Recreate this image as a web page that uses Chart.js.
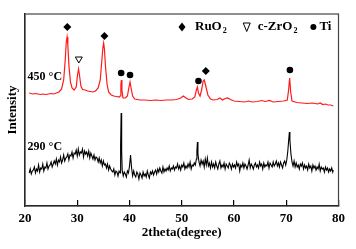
<!DOCTYPE html>
<html>
<head>
<meta charset="utf-8">
<script src="https://cdn.jsdelivr.net/npm/chart.js@4.4.0/dist/chart.umd.min.js"></script>
<style>
  html, body { margin: 0; padding: 0; background: #fff; }
  canvas { display: block; }
</style>
</head>
<body>
<canvas id="xrd" width="356" height="249"></canvas>
<script>
// 450 °C pattern (red)
const theta450 = [20.8, 21.5, 22.0, 22.5, 23.0, 23.5, 24.0, 24.5, 25.0, 25.5, 26.0, 26.5, 27.0, 27.4, 27.7, 27.9, 28.05, 28.2, 28.4, 28.7,
  29.0, 29.4, 29.8, 30.05, 30.25, 30.45, 30.7, 31.0, 31.5, 32.0, 32.5, 33.0, 33.5, 34.0, 34.4, 34.7, 34.9, 35.05, 35.2, 35.4,
  35.7, 36.0, 36.5, 37.0, 37.5, 38.0, 38.2, 38.35, 38.45, 38.55, 38.75, 39.2, 39.6, 39.9, 40.1, 40.3, 40.6, 41.0, 41.5, 42.0,
  43.0, 44.0, 45.0, 46.0, 47.0, 48.0, 49.0, 49.8, 50.3, 50.8, 51.3, 52.0, 52.5, 52.8, 53.0, 53.2, 53.5, 53.8, 54.1, 54.3,
  54.6, 55.0, 55.5, 56.0, 56.8, 57.3, 57.8, 58.3, 58.8, 59.3, 60.0, 61.0, 62.0, 62.8, 63.5, 64.5, 65.3, 66.0, 66.8, 67.5,
  68.5, 69.5, 70.2, 70.45, 70.65, 70.85, 71.1, 72.0, 73.0, 74.0, 75.0, 76.0, 76.5, 77.0, 77.5, 78.0, 78.5, 79.0];
const int450 = [113, 112, 112.5, 112, 111.5, 112, 111.5, 112, 112.5, 112, 113, 114, 117, 126, 146, 164, 169, 161, 141, 124,
  118, 116, 119, 131, 137, 130, 120, 116.5, 116, 115, 114.5, 114, 115, 118, 126, 145, 158, 163, 157, 140,
  122, 114, 111, 110, 109.5, 109, 110, 121, 126, 116, 108, 108, 110, 119, 124, 118, 110, 107, 106.5, 106,
  106, 105.5, 106, 105.5, 106, 106, 106.5, 108, 110, 108, 106.5, 107, 109, 116, 119, 113, 110, 116, 125, 126,
  120, 111, 107, 106, 106.5, 108, 106, 107.5, 108, 106.5, 105, 104.5, 104, 105, 104, 104.5, 105.5, 104.5, 105.5, 104,
  104.5, 105, 106, 116, 128, 114, 105, 103.5, 103, 102.5, 103, 102, 103, 101.5, 102, 101, 101, 100];

// 290 °C pattern (black)
const theta290 = [20.8, 21.0, 21.2, 21.4, 21.6, 21.8, 22.0, 22.2, 22.4, 22.6, 22.8, 23.0, 23.2, 23.4, 23.6, 23.8, 24.0, 24.2, 24.4, 24.6,
  24.8, 25.0, 25.2, 25.4, 25.6, 25.8, 26.0, 26.2, 26.4, 26.6, 26.8, 27.0, 27.2, 27.4, 27.6, 27.8, 28.0, 28.2, 28.4, 28.6,
  28.8, 29.0, 29.2, 29.4, 29.6, 29.8, 30.0, 30.2, 30.4, 30.6, 30.8, 31.0, 31.2, 31.4, 31.6, 31.8, 32.0, 32.2, 32.4, 32.6,
  32.8, 33.0, 33.2, 33.4, 33.6, 33.8, 34.0, 34.2, 34.4, 34.6, 34.8, 35.0, 35.2, 35.4, 35.6, 35.8, 36.0, 36.2, 36.4, 36.6,
  36.8, 37.0, 37.2, 37.4, 37.6, 37.8, 38.0, 38.2, 38.3, 38.4, 38.5, 38.6, 38.8, 39.0, 39.2, 39.4, 39.6, 39.8, 40.0, 40.2,
  40.4, 40.6, 40.8, 41.0, 41.2, 41.4, 41.6, 41.8, 42.0, 42.2, 42.4, 42.6, 42.8, 43.0, 43.2, 43.4, 43.6, 43.8, 44.0, 44.2,
  44.4, 44.6, 44.8, 45.0, 45.2, 45.4, 45.6, 45.8, 46.0, 46.2, 46.4, 46.6, 46.8, 47.0, 47.2, 47.4, 47.6, 47.8, 48.0, 48.2,
  48.4, 48.6, 48.8, 49.0, 49.2, 49.4, 49.6, 49.8, 50.0, 50.2, 50.4, 50.6, 50.8, 51.0, 51.2, 51.4, 51.6, 51.8, 52.0, 52.2,
  52.4, 52.6, 52.8, 52.9, 53.0, 53.1, 53.3, 53.5, 53.7, 53.9, 54.1, 54.3, 54.5, 54.7, 54.9, 55.1, 55.3, 55.5, 55.7, 55.9,
  56.1, 56.3, 56.5, 56.7, 56.9, 57.1, 57.3, 57.5, 57.7, 57.9, 58.1, 58.3, 58.5, 58.7, 58.9, 59.1, 59.3, 59.5, 59.7, 59.9,
  60.1, 60.3, 60.5, 60.7, 60.9, 61.1, 61.3, 61.5, 61.7, 61.9, 62.1, 62.3, 62.5, 62.7, 62.9, 63.1, 63.3, 63.5, 63.7, 63.9,
  64.1, 64.3, 64.5, 64.7, 64.9, 65.1, 65.3, 65.5, 65.7, 65.9, 66.1, 66.3, 66.5, 66.7, 66.9, 67.1, 67.3, 67.5, 67.7, 67.9,
  68.1, 68.3, 68.5, 68.7, 68.9, 69.1, 69.3, 69.5, 69.7, 69.9, 70.1, 70.3, 70.5, 70.6, 70.7, 70.9, 71.1, 71.3, 71.5, 71.7,
  71.9, 72.1, 72.3, 72.5, 72.7, 72.9, 73.1, 73.3, 73.5, 73.7, 73.9, 74.1, 74.3, 74.5, 74.7, 74.9, 75.1, 75.3, 75.5, 75.7,
  75.9, 76.1, 76.3, 76.5, 76.7, 76.9, 77.1, 77.3, 77.5, 77.7, 77.9, 78.1, 78.3, 78.5, 78.7, 78.9, 79.0];
const int290 = [33, 37, 32, 35, 36, 39, 33, 37, 35, 41, 34, 38, 37, 42, 35, 39, 38, 43, 37, 40,
  41, 44, 39, 42, 45, 42, 47, 41, 46, 44, 49, 43, 46, 51, 45, 48, 49, 52, 46, 51,
  50, 54, 48, 53, 52, 56, 50, 57, 51, 54, 53, 57, 49, 55, 52, 54, 50, 55, 48, 53,
  50, 47, 51, 46, 49, 48, 44, 48, 43, 46, 40, 45, 41, 42, 38, 42, 36, 40, 37, 35,
  34, 37, 31, 35, 34, 30, 35, 33, 60, 93, 55, 36, 30, 34, 32, 29, 35, 33, 40, 51,
  38, 30, 35, 31, 29, 34, 32, 27, 33, 31, 28, 34, 30, 32, 29, 35, 31, 28, 34, 32,
  35, 31, 34, 36, 32, 37, 34, 38, 35, 33, 39, 34, 37, 35, 38, 36, 40, 35, 38, 37,
  40, 36, 39, 38, 42, 37, 40, 36, 41, 39, 43, 37, 40, 38, 42, 39, 44, 37, 41, 40,
  43, 41, 47, 55, 64, 52, 44, 40, 46, 42, 45, 39, 47, 41, 48, 40, 43, 38, 44, 39,
  42, 38, 44, 40, 37, 42, 45, 38, 41, 39, 43, 37, 42, 40, 38, 43, 41, 37, 42, 39,
  41, 38, 44, 40, 42, 35, 41, 39, 43, 38, 42, 40, 37, 41, 46, 38, 42, 40, 37, 41,
  43, 39, 41, 38, 44, 40, 42, 37, 43, 39, 41, 40, 44, 38, 43, 41, 39, 44, 40, 42,
  45, 40, 43, 39, 44, 41, 38, 43, 45, 41, 46, 55, 68, 74, 66, 52, 44, 40, 45, 39,
  43, 39, 41, 37, 42, 40, 43, 37, 41, 38, 40, 36, 42, 38, 40, 35, 41, 38, 40, 36,
  39, 37, 42, 35, 39, 37, 38, 34, 39, 36, 38, 34, 37, 35, 38, 34, 36];

const xTicks = [20, 30, 40, 50, 60, 70, 80];

// phase markers above the peaks
const ruo2Theta = [28.1, 35.2, 54.6];
const ruo2Mark = [179, 170, 135];
const zro2Theta = [30.3];
const zro2Mark = [147];
const tiTheta = [38.4, 40.1, 53.2, 70.7];
const tiMark = [133, 131, 125, 136];

const serif = '"Liberation Serif", "Times New Roman", serif';
const pts = (xs, ys) => xs.map((x, i) => ({x: x, y: ys[i]}));

function sub(ctx, main, low, x, y, size) {
  ctx.font = 'bold ' + size + 'px ' + serif;
  ctx.fillText(main, x, y);
  let w = ctx.measureText(main).width;
  ctx.font = 'bold ' + Math.round(size * 0.62) + 'px ' + serif;
  ctx.fillText(low, x + w + 1, y + 4);
  return x + w + 1 + ctx.measureText(low).width;
}

const frame = {
  id: 'frame',
  afterDraw(chart) {
    const ctx = chart.ctx, a = chart.chartArea;
    const xs = chart.scales.x, ys = chart.scales.y;
    ctx.save();
    ctx.strokeStyle = '#444';
    ctx.lineWidth = 1.2;
    ctx.strokeRect(a.left, a.top, a.right - a.left, a.bottom - a.top);

    ctx.fillStyle = '#000';
    ctx.textBaseline = 'middle';
    ctx.textAlign = 'left';
    ctx.font = 'bold 12px ' + serif;
    ctx.fillText('450 °C', xs.getPixelForValue(20.5), ys.getPixelForValue(129));
    ctx.fillText('290 °C', xs.getPixelForValue(20.5), ys.getPixelForValue(59));

    // legend
    let lx = a.left + 157, ly = a.top + 13;
    ctx.beginPath();
    ctx.moveTo(lx, ly - 4.5); ctx.lineTo(lx + 3.5, ly); ctx.lineTo(lx, ly + 4.5); ctx.lineTo(lx - 3.5, ly);
    ctx.closePath(); ctx.fill();
    let tx = sub(ctx, 'RuO', '2', lx + 13, ly, 13);
    let vx = tx + 20;
    ctx.beginPath();
    ctx.moveTo(vx - 3.5, ly - 4); ctx.lineTo(vx + 3.5, ly - 4); ctx.lineTo(vx, ly + 4.5); ctx.closePath();
    ctx.lineWidth = 1; ctx.strokeStyle = '#000'; ctx.stroke();
    tx = sub(ctx, 'c-ZrO', '2', vx + 11, ly, 13);
    let dx = tx + 16;
    ctx.beginPath(); ctx.arc(dx, ly, 3, 0, Math.PI * 2); ctx.fill();
    ctx.font = 'bold 13px ' + serif;
    ctx.fillText('Ti', dx + 6, ly);
    ctx.restore();
  }
};

new Chart(document.getElementById('xrd'), {
  type: 'scatter',
  data: {
    datasets: [
      { label: '450 °C', data: pts(theta450, int450), showLine: true, borderColor: '#ff1a1a', borderWidth: 1.2, pointRadius: 0, pointHoverRadius: 0, tension: 0 },
      { label: '290 °C', data: pts(theta290, int290), showLine: true, borderColor: '#000', borderWidth: 1.1, pointRadius: 0, pointHoverRadius: 0, tension: 0 },
      { label: 'RuO2', data: pts(ruo2Theta, ruo2Mark), pointStyle: 'rectRot', pointRadius: 4, pointBackgroundColor: '#000', pointBorderColor: '#000', pointBorderWidth: 0 },
      { label: 'c-ZrO2', data: pts(zro2Theta, zro2Mark), pointStyle: 'triangle', pointRotation: 180, pointRadius: 4, pointBackgroundColor: '#fff', pointBorderColor: '#000', pointBorderWidth: 1 },
      { label: 'Ti', data: pts(tiTheta, tiMark), pointStyle: 'circle', pointRadius: 3.3, pointBackgroundColor: '#000', pointBorderColor: '#000', pointBorderWidth: 0 }
    ]
  },
  options: {
    responsive: false,
    animation: false,
    devicePixelRatio: 1,
    layout: { padding: { top: 14, right: 12, left: 0, bottom: 0 } },
    plugins: { legend: { display: false }, tooltip: { enabled: false } },
    scales: {
      x: {
        type: 'linear', min: 20, max: 80,
        afterBuildTicks: s => { s.ticks = xTicks.map(v => ({value: v})); },
        afterFit: s => { s.height = 43; },
        grid: { drawOnChartArea: false, tickLength: -6, color: '#000', lineWidth: 1.2 },
        border: { display: true, color: '#000', width: 1.2 },
        ticks: { padding: 11, color: '#000', maxRotation: 0, font: { family: serif, size: 13, weight: 'bold' } },
        title: { display: true, text: '2theta(degree)', color: '#000', font: { family: serif, size: 13, weight: 'bold' }, padding: { top: 0, bottom: 9 } }
      },
      y: {
        min: 0, max: 192,
        afterFit: s => { s.width = 25; },
        ticks: { display: false },
        grid: { display: false },
        border: { display: true, color: '#000', width: 1.2 },
        title: { display: true, text: 'Intensity', color: '#000', font: { family: serif, size: 13, weight: 'bold' }, padding: { top: 5, bottom: 0 } }
      }
    }
  },
  plugins: [frame]
});
</script>
</body>
</html>
